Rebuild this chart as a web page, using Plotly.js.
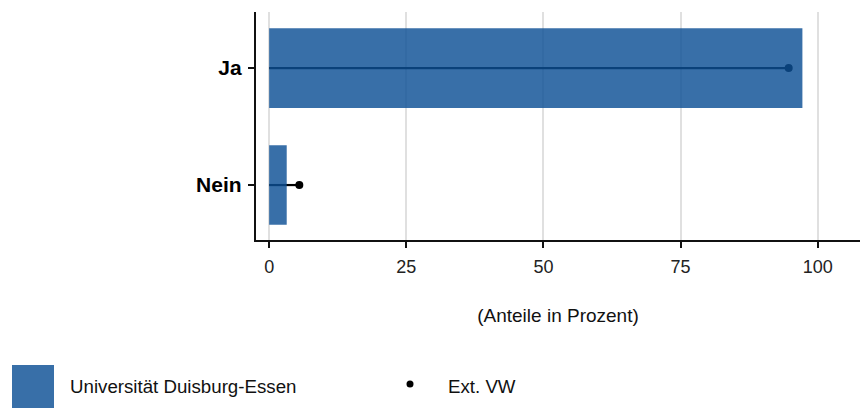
<!DOCTYPE html>
<html>
<head>
<meta charset="utf-8">
<script src="https://cdn.plot.ly/plotly-3.0.1.min.js"></script>
<style>html,body{margin:0;padding:0;background:#fff;}#chart{width:863px;height:409px;}</style>
</head>
<body>
<div id="chart"></div>
<script>
const categories = ["Nein", "Ja"];
const udeValues = [3.2, 97.2];
const extVwValues = [5.5, 94.7];
const xTicks = [0, 25, 50, 75, 100];
const legendLabels = ["Universität Duisburg-Essen", "Ext. VW"];

const W = 863, H = 409, L = 256, R = 3, T = 12, B = 169;
const pw = W - L - R, ph = H - T - B;
const px = p => (p - L) / pw;
const py = p => (H - B - p) / ph;

const font = "Liberation Sans, Arial, sans-serif";

// lollipop lines (x from 0 to value) and points
const lineX = [], lineY = [];
categories.forEach((c, i) => { lineX.push(0, extVwValues[i], null); lineY.push(c, c, null); });

const traces = [
  {type: "scatter", mode: "lines", x: lineX, y: lineY, line: {color: "#000", width: 2.2},
   hoverinfo: "skip", showlegend: false, xaxis: "x", yaxis: "y"},
  {type: "scatter", mode: "markers", x: extVwValues, y: categories, name: legendLabels[1],
   marker: {color: "#000", size: 8}, showlegend: false, xaxis: "x", yaxis: "y"},
  {type: "bar", orientation: "h", x: udeValues, y: categories, name: legendLabels[0],
   width: 0.68, marker: {color: "rgba(12,79,149,0.82)", line: {width: 0}},
   showlegend: false, xaxis: "x2", yaxis: "y2"}
];

const xr = [-2.4, 107.7], yr = [-0.47, 1.48];
const layout = {
  width: W, height: H,
  margin: {l: L, r: R, t: T, b: B},
  paper_bgcolor: "#fff", plot_bgcolor: "#fff",
  showlegend: false,
  font: {family: font, color: "#000"},
  xaxis: {
    range: xr, tickvals: xTicks, ticktext: xTicks.map(String),
    showgrid: true, gridcolor: "#e0e0e0", gridwidth: 2, zeroline: false,
    showline: true, linecolor: "#111", linewidth: 2.2,
    ticks: "outside", ticklen: 6, tickwidth: 2, tickcolor: "#111",
    tickfont: {size: 18, color: "#222", family: font},
    ticklabelstandoff: 3,
    title: {text: "(Anteile in Prozent)", font: {size: 19, color: "#111", family: font}, standoff: 33}
  },
  yaxis: {
    type: "category", categoryorder: "array", categoryarray: categories, range: yr,
    showgrid: false, zeroline: false,
    showline: true, linecolor: "#111", linewidth: 2.2,
    ticks: "outside", ticklen: 6, tickwidth: 2, tickcolor: "#111",
    tickfont: {size: 21, color: "#000", family: font, weight: "bold"},
    ticklabelstandoff: 2
  },
  xaxis2: {overlaying: "x", range: xr, visible: false, showgrid: false, zeroline: false},
  yaxis2: {overlaying: "y", type: "category", categoryorder: "array", categoryarray: categories,
           range: yr, visible: false, showgrid: false, zeroline: false},
  shapes: [
    {type: "rect", xref: "paper", yref: "paper", x0: px(12), x1: px(54), y0: py(408), y1: py(365),
     fillcolor: "#386fa8", line: {width: 0}},
    {type: "circle", xref: "paper", yref: "paper", xsizemode: "pixel", ysizemode: "pixel",
     xanchor: px(410), yanchor: py(384), x0: -3.5, x1: 3.5, y0: -3.5, y1: 3.5,
     fillcolor: "#000", line: {width: 0}}
  ],
  annotations: [
    {xref: "paper", yref: "paper", x: px(68), y: py(386), xanchor: "left", yanchor: "middle",
     text: legendLabels[0], showarrow: false, font: {size: 18.7, color: "#111", family: font}},
    {xref: "paper", yref: "paper", x: px(446), y: py(386), xanchor: "left", yanchor: "middle",
     text: legendLabels[1], showarrow: false, font: {size: 18.7, color: "#111", family: font}}
  ]
};

Plotly.newPlot("chart", traces, layout, {displayModeBar: false, staticPlot: true});
</script>
</body>
</html>
